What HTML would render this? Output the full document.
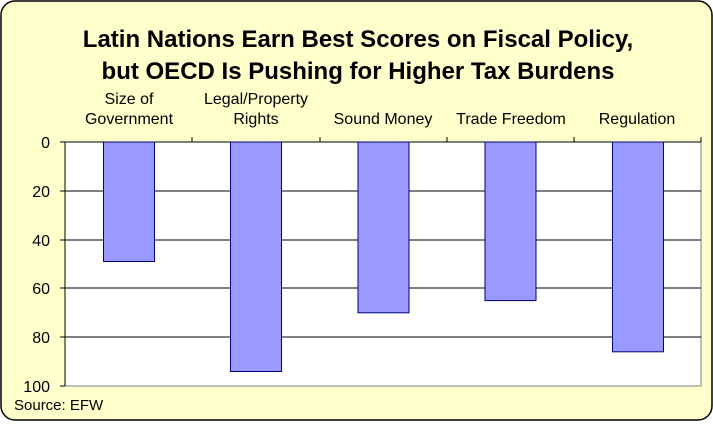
<!DOCTYPE html><html><head><style>body{margin:0;background:#fff}</style></head><body>
<svg width="713" height="421" xmlns="http://www.w3.org/2000/svg" font-family="Liberation Sans, Arial, sans-serif">
<rect x="1" y="1" width="711" height="419" rx="14" fill="#FFFFCC" stroke="#000" stroke-width="1.5"/>
<text x="358" y="47" text-anchor="middle" font-size="24" font-weight="bold">Latin Nations Earn Best Scores on Fiscal Policy,</text>
<text x="358" y="79" text-anchor="middle" font-size="24" font-weight="bold">but OECD Is Pushing for Higher Tax Burdens</text>
<rect x="65" y="142" width="636" height="244" fill="#fff" stroke="#808080"/>
<g stroke="#000" stroke-width="1">
<line x1="65" y1="142" x2="701" y2="142"/>
<line x1="65" y1="191" x2="701" y2="191"/>
<line x1="65" y1="240" x2="701" y2="240"/>
<line x1="65" y1="288" x2="701" y2="288"/>
<line x1="65" y1="337" x2="701" y2="337"/>
<line x1="65" y1="142" x2="65" y2="386"/>
<line x1="60" y1="142" x2="65" y2="142"/><line x1="60" y1="191" x2="65" y2="191"/><line x1="60" y1="240" x2="65" y2="240"/><line x1="60" y1="288" x2="65" y2="288"/><line x1="60" y1="337" x2="65" y2="337"/><line x1="60" y1="386" x2="65" y2="386"/>
<line x1="192" y1="137" x2="192" y2="142"/><line x1="320" y1="137" x2="320" y2="142"/><line x1="447" y1="137" x2="447" y2="142"/><line x1="574" y1="137" x2="574" y2="142"/><line x1="701" y1="137" x2="701" y2="142"/>
</g>
<g fill="#9999FF" stroke="#000080" stroke-width="1">
<rect x="103.5" y="142" width="51" height="119.5"/>
<rect x="230.5" y="142" width="51" height="229.5"/>
<rect x="358" y="142" width="51" height="170.8"/>
<rect x="485" y="142" width="51" height="158.6"/>
<rect x="612.5" y="142" width="51" height="209.8"/>
</g>
<g font-size="16" text-anchor="end" fill="#000">
<text x="50" y="148">0</text><text x="50" y="197">20</text><text x="50" y="246">40</text><text x="50" y="294">60</text><text x="50" y="343">80</text><text x="50" y="392">100</text>
</g>
<g font-size="16" text-anchor="middle" fill="#000">
<text x="129" y="104">Size of</text><text x="129" y="124">Government</text>
<text x="256" y="104">Legal/Property</text><text x="256" y="124">Rights</text>
<text x="383" y="124">Sound Money</text>
<text x="511" y="124">Trade Freedom</text>
<text x="637" y="124">Regulation</text>
</g>
<text x="14" y="410" font-size="15">Source: EFW</text>
</svg></body></html>
